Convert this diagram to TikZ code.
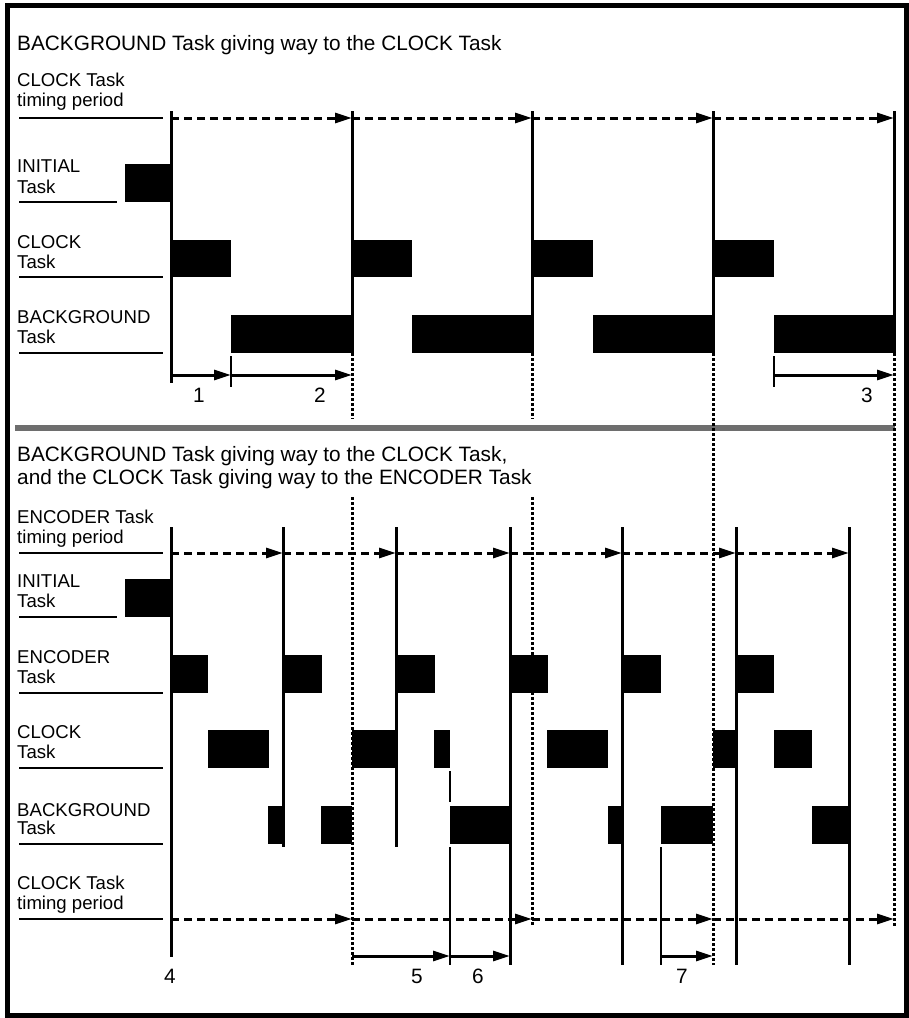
\documentclass[tikz,border=0pt]{standalone}
\usepackage{fontspec}
\setmainfont{Liberation Sans}
\usetikzlibrary{arrows.meta}
\definecolor{sepgrey}{RGB}{110,110,110}
\tikzset{
  titletext/.style={anchor=base west,inner sep=0pt,font=\fontsize{20.8}{24}\selectfont},
  lbltext/.style={anchor=base west,inner sep=0pt,font=\fontsize{18.6}{20.5}\selectfont},
  numtext/.style={anchor=base,inner sep=0pt,font=\fontsize{20.8}{24}\selectfont},
  uline/.style={line width=2pt},
  tickline/.style={line width=3pt},
  thinline/.style={line width=2pt},
  dotline/.style={line width=3pt,dash pattern=on 3pt off 2pt},
  period/.style={line width=3pt,dash pattern=on 8pt off 5pt,-{Triangle[length=17pt,width=10pt]}},
  span/.style={line width=3pt,-{Triangle[length=17pt,width=10pt]}},
  bar/.style={fill=black}
}
\begin{document}
\begin{tikzpicture}[x=1pt,y=-1pt]
\useasboundingbox (0,0) rectangle (909,1018);
% frame
\draw[line width=5pt] (7.5,5.5) rectangle (906.5,1015.5);
\draw[line width=6pt,sepgrey] (15,428) -- (895,428);

% ================= TOP SECTION =================
\node[titletext] (t1) at (17,50) {BACKGROUND Task giving way to the CLOCK Task};

\node[lbltext] (a1) at (17,86) {CLOCK Task};
\node[lbltext] (a2) at (17,106) {timing period};
\node[lbltext] (b1) at (17,172) {INITIAL};
\node[lbltext] (b2) at (17,193) {Task};
\node[lbltext] (c1) at (17,248) {CLOCK};
\node[lbltext] (c2) at (17,268) {Task};
\node[lbltext] (d1) at (17,323) {BACKGROUND};
\node[lbltext] (d2) at (17,343) {Task};
\draw[uline] (19,118) -- (163,118);
\draw[uline] (19,202) -- (117,202);
\draw[uline] (19,277) -- (163,277);
\draw[uline] (19,353) -- (163,353);

% bars
\fill[bar] (125,164) rectangle (171,202);
\foreach \xa/\xb in {171/231,352/412,532/593,713/774}
  \fill[bar] (\xa,240) rectangle (\xb,277);
\foreach \xa/\xb in {231/352,412/532,593/713,774/894}
  \fill[bar] (\xa,315) rectangle (\xb,353);

% clock ticks
\coordinate (k0t) at (171,111); \coordinate (k0b) at (171,383);
\draw[tickline] (k0t) -- (k0b);
\foreach \x in {352,532,713,894}
  \draw[tickline] (\x,111) -- (\x,353);
% dotted continuations
\draw[dotline] (352,353) -- (352,419);
\draw[dotline] (532,353) -- (532,419);
\draw[dotline] (352,497) -- (352,965);
\draw[dotline] (532,497) -- (532,925);
\draw[dotline] (713,353) -- (713,965);
\draw[dotline] (894,353) -- (894,926);

% period arrows
\foreach \xa/\xb in {171/352,352/532,532/713,713/894}
  \draw[period] (\xa,118) -- (\xb,118);

% spans 1 2 3
\coordinate (s1a) at (171,375); \coordinate (s1b) at (231,375);
\coordinate (s2b) at (352,375);
\coordinate (s3a) at (774,375); \coordinate (s3b) at (894,375);
\draw[thinline] (231,356) -- (231,387);
\draw[thinline] (774,356) -- (774,387);
\draw[span] (s1a) -- (s1b);
\draw[span] (s1b) -- (s2b);
\draw[span] (s3a) -- (s3b);
\node[numtext] (n1) at (199,402) {1};
\node[numtext] (n2) at (320,402) {2};
\node[numtext] (n3) at (867,402) {3};

% ================= BOTTOM SECTION =================
\node[titletext,fill=white,inner sep=0pt] (t2a) at (17,461) {BACKGROUND Task giving way to the CLOCK Task,};
\node[titletext] (t2b) at (17,484) {and the CLOCK Task giving way to the ENCODER Task};

\node[lbltext] (e1) at (17,523) {ENCODER Task};
\node[lbltext] (e2) at (17,543) {timing period};
\node[lbltext] (f1) at (17,587) {INITIAL};
\node[lbltext] (f2) at (17,607) {Task};
\node[lbltext] (g1) at (17,663) {ENCODER};
\node[lbltext] (g2) at (17,683) {Task};
\node[lbltext] (h1) at (17,738) {CLOCK};
\node[lbltext] (h2) at (17,758) {Task};
\node[lbltext] (i1) at (17,816) {BACKGROUND};
\node[lbltext] (i2) at (17,834) {Task};
\node[lbltext] (j1) at (17,889) {CLOCK Task};
\node[lbltext] (j2) at (17,909) {timing period};
\draw[uline] (19,553) -- (163,553);
\draw[uline] (19,617) -- (117,617);
\draw[uline] (19,693) -- (163,693);
\draw[uline] (19,768) -- (163,768);
\draw[uline] (19,844) -- (163,844);
\draw[uline] (19,919) -- (163,919);

% thin marker lines
\draw[thinline] (450,771) -- (450,802);
\draw[thinline] (450,847) -- (450,965);
\draw[thinline] (661,847) -- (661,965);

% bars
\fill[bar] (125,579) rectangle (171,617);
\foreach \xa/\xb in {171/208,283/322,396/435,510/548,622/661,736/774}
  \fill[bar] (\xa,655) rectangle (\xb,693);
\foreach \xa/\xb in {208/269,352/396,434/450,547/608,713/736,774/812}
  \fill[bar] (\xa,730) rectangle (\xb,768);
\foreach \xa/\xb in {268/283,321/352,450/510,608/622,661/713,812/849}
  \fill[bar] (\xa,806) rectangle (\xb,844);

% encoder ticks
\draw[tickline] (171,527) -- (171,957);
\foreach \x in {283,396}
  \draw[tickline] (\x,527) -- (\x,847);
\foreach \x in {510,622,736,849}
  \draw[tickline] (\x,527) -- (\x,965);

% encoder period arrows
\foreach \xa/\xb in {171/283,283/396,396/510,510/622,622/736,736/849}
  \draw[period] (\xa,553) -- (\xb,553);
% clock period arrows
\foreach \xa/\xb in {171/352,352/532,532/713,713/894}
  \draw[period] (\xa,919) -- (\xb,919);

% spans 5 6 7
\coordinate (s5a) at (352,956); \coordinate (s5b) at (450,956);
\coordinate (s6b) at (510,956);
\coordinate (s7a) at (661,956); \coordinate (s7b) at (713,956);
\draw[span] (s5a) -- (s5b);
\draw[span] (s5b) -- (s6b);
\draw[span] (s7a) -- (s7b);
\node[numtext] (n4) at (170,983) {4};
\node[numtext] (n5) at (417,983) {5};
\node[numtext] (n6) at (478,983) {6};
\node[numtext] (n7) at (682,983) {7};
\end{tikzpicture}
\end{document}
